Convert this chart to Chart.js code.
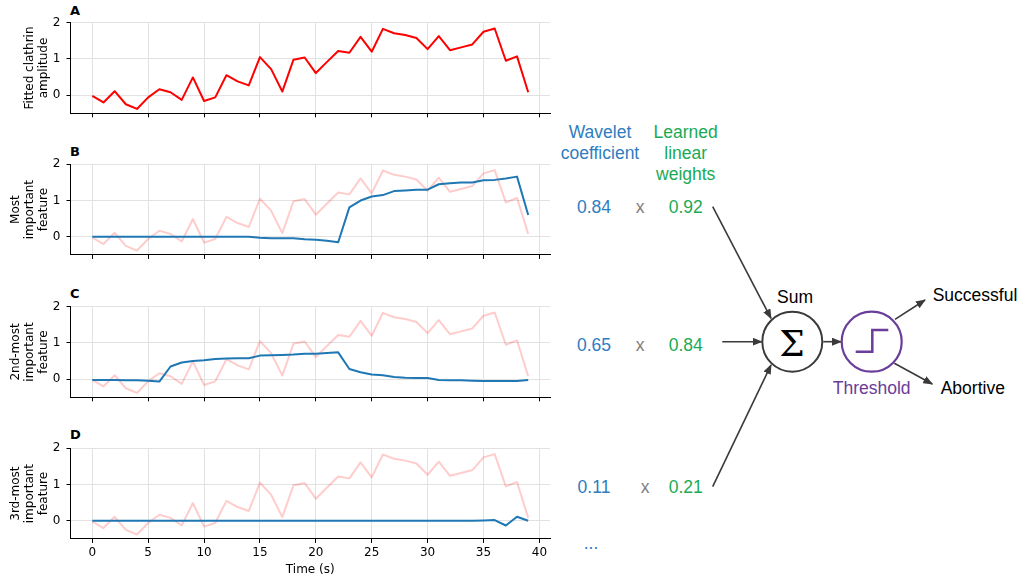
<!DOCTYPE html>
<html>
<head>
<meta charset="utf-8">
<script src="https://cdn.jsdelivr.net/npm/chart.js@4.4.0/dist/chart.umd.min.js"></script>
<style>
    body { margin: 0; background: #fff; width: 1021px; height: 580px; position: relative; overflow: hidden; }
    canvas { position: absolute; left: 0; }
    .letter { position: absolute; left: 70px; font: bold 13px "DejaVu Sans"; line-height: 14px; color: #000; }
    svg { position: absolute; left: 0; top: 0; }
    svg text { font-family: "Liberation Sans", Arial, sans-serif; font-size: 17.5px; }
</style>
</head>
<body>

<div class="letter" style="top:4px">A</div>
<div class="letter" style="top:145px">B</div>
<div class="letter" style="top:287px">C</div>
<div class="letter" style="top:428px">D</div>

<svg id="diagram" width="1021" height="580"></svg>

<script>
// Данные
const time = [0, 1, 2, 3, 4, 5, 6, 7, 8, 9, 10, 11, 12, 13, 14, 15, 16, 17, 18, 19,
              20, 21, 22, 23, 24, 25, 26, 27, 28, 29, 30, 31, 32, 33, 34, 35, 36, 37, 38, 39];
const amplitude = [-0.02, -0.2, 0.11, -0.25, -0.38, -0.06, 0.165, 0.08, -0.13, 0.49,
                   -0.16, -0.06, 0.55, 0.38, 0.27, 1.05, 0.72, 0.1, 0.98, 1.04,
                   0.61, 0.92, 1.22, 1.17, 1.61, 1.2, 1.83, 1.71, 1.66, 1.58,
                   1.27, 1.63, 1.24, 1.32, 1.4, 1.75, 1.84, 0.95, 1.07, 0.08];
const feature1 = [0, 0, 0, 0, 0, 0, 0, 0, 0, 0, 0, 0, 0, 0, 0, -0.03, -0.04, -0.04, -0.04, -0.07,
                  -0.08, -0.11, -0.15, 0.81, 1.0, 1.11, 1.15, 1.26, 1.28, 1.3,
                  1.3, 1.45, 1.48, 1.5, 1.5, 1.56, 1.57, 1.61, 1.66, 0.6];
const feature2 = [-0.02, -0.02, -0.02, -0.03, -0.03, -0.04, -0.065, 0.35, 0.46, 0.5,
                  0.52, 0.56, 0.57, 0.58, 0.58, 0.65, 0.66, 0.67, 0.68, 0.7,
                  0.7, 0.72, 0.74, 0.28, 0.19, 0.13, 0.11, 0.06, 0.04, 0.03,
                  0.03, -0.02, -0.03, -0.03, -0.04, -0.05, -0.05, -0.05, -0.05, -0.02];
const feature3 = [0, 0, 0, 0, 0, 0, 0, 0, 0, 0, 0, 0, 0, 0, 0, 0, 0, 0, 0, 0,
                  0, 0, 0, 0, 0, 0, 0, 0, 0, 0, 0, 0, 0, 0, 0, 0.01, 0.02, -0.13, 0.11, 0];
const xTicks = [0, 5, 10, 15, 20, 25, 30, 35, 40];
const yTicks = [0, 1, 2];
const coefficients = ['0.84', '0.65', '0.11'];
const weights = ['0.92', '0.84', '0.21'];

const RED = '#ff0000';
const PINK = 'rgba(255,0,0,0.2)';
const BLUE = '#1f77b4';
const PLOT_H = 90.6;
const FONT = 'DejaVu Sans';

function pts(vals) {
    return time.map((t, i) => ({ x: t, y: vals[i] }));
}

function panel(plotTop, yTitle, blue, showX) {
    const top = Math.floor(plotTop) - 20;
    const padTop = plotTop - top;
    // высота оси x побольше, чтобы нижняя подпись y не сжимала область графика
    const xh = showX ? 580 - plotTop - PLOT_H : 18;
    const h = padTop + PLOT_H + xh;
    const hInt = Math.ceil(h);

    const cv = document.createElement('canvas');
    cv.width = 560;
    cv.height = hInt;
    cv.style.top = top + 'px';
    cv.style.width = '560px';
    cv.style.height = hInt + 'px';
    document.body.appendChild(cv);

    // синяя линия поверх бледной красной
    let datasets = [];
    if (blue) {
        datasets.push({ data: pts(blue), borderColor: BLUE, borderWidth: 2 });
        datasets.push({ data: pts(amplitude), borderColor: PINK, borderWidth: 2 });
    } else {
        datasets.push({ data: pts(amplitude), borderColor: RED, borderWidth: 2 });
    }

    new Chart(cv.getContext('2d'), {
        type: 'line',
        data: { datasets: datasets },
        options: {
            responsive: false,
            animation: false,
            layout: { padding: { top: padTop, right: 10, left: 0, bottom: hInt - h } },
            plugins: { legend: { display: false }, tooltip: { enabled: false } },
            elements: { point: { radius: 0 }, line: { tension: 0, borderJoinStyle: 'round' } },
            scales: {
                x: {
                    type: 'linear',
                    min: -1.95,
                    max: 40.95,
                    afterBuildTicks: (s) => { s.ticks = xTicks.map(v => ({ value: v })); },
                    afterFit: (s) => { s.height = xh; },
                    grid: { color: '#e2e2e2', tickColor: '#000', tickLength: 4 },
                    border: { color: '#000', width: 1 },
                    ticks: {
                        color: showX ? '#000' : 'rgba(0,0,0,0)',
                        font: { family: FONT, size: 12 },
                        padding: 3,
                        maxRotation: 0
                    },
                    title: {
                        display: showX,
                        text: 'Time (s)',
                        color: '#000',
                        font: { family: FONT, size: 12 },
                        padding: { top: 0, bottom: 3 }
                    }
                },
                y: {
                    min: -0.5,
                    max: 2,
                    afterBuildTicks: (s) => { s.ticks = yTicks.map(v => ({ value: v })); },
                    afterFit: (s) => { s.width = 70.5; },
                    grid: { color: '#e2e2e2', tickColor: '#000', tickLength: 4 },
                    border: { color: '#000', width: 1 },
                    ticks: { color: '#000', font: { family: FONT, size: 12 }, padding: 6 },
                    title: {
                        display: true,
                        text: yTitle,
                        color: '#000',
                        font: { family: FONT, size: 12, lineHeight: 1.17 },
                        padding: { top: yTitle.length === 2 ? 23 : 9, bottom: 0 }
                    }
                }
            }
        }
    });
}

panel(22.7, ['Fitted clathrin', 'amplitude'], null, false);
panel(164.3, ['Most', 'important', 'feature'], feature1, false);
panel(306.7, ['2nd-most', 'important', 'feature'], feature2, false);
panel(448.3, ['3rd-most', 'important', 'feature'], feature3, true);

// Схема справа
const svg = document.getElementById('diagram');
const NS = 'http://www.w3.org/2000/svg';
function el(tag, attrs, text) {
    const e = document.createElementNS(NS, tag);
    for (const k in attrs) e.setAttribute(k, attrs[k]);
    if (text !== undefined) e.textContent = text;
    svg.appendChild(e);
    return e;
}

const TBLUE = '#2f7dbf';
const TGREEN = '#1aaa55';
const PURPLE = '#6a3d9a';
const DARK = '#3a3a3a';

const defs = el('defs', {});
const marker = document.createElementNS(NS, 'marker');
marker.setAttribute('id', 'arr');
marker.setAttribute('viewBox', '0 0 10 8');
marker.setAttribute('refX', '9');
marker.setAttribute('refY', '4');
marker.setAttribute('markerWidth', '10');
marker.setAttribute('markerHeight', '8');
marker.setAttribute('markerUnits', 'userSpaceOnUse');
marker.setAttribute('orient', 'auto');
const mp = document.createElementNS(NS, 'path');
mp.setAttribute('d', 'M0,0 L10,4 L0,8 z');
mp.setAttribute('fill', DARK);
marker.appendChild(mp);
defs.appendChild(marker);

// заголовки столбцов
el('text', { x: 600, y: 131.7, fill: TBLUE, 'text-anchor': 'middle', 'dominant-baseline': 'central' }, 'Wavelet');
el('text', { x: 600, y: 152.7, fill: TBLUE, 'text-anchor': 'middle', 'dominant-baseline': 'central' }, 'coefficient');
el('text', { x: 685.7, y: 131.7, fill: TGREEN, 'text-anchor': 'middle', 'dominant-baseline': 'central' }, 'Learned');
el('text', { x: 685.7, y: 152.7, fill: TGREEN, 'text-anchor': 'middle', 'dominant-baseline': 'central' }, 'linear');
el('text', { x: 685.7, y: 173.7, fill: TGREEN, 'text-anchor': 'middle', 'dominant-baseline': 'central' }, 'weights');

const rowY = [206.7, 345, 486.7];
const crossX = [640, 640, 645];
rowY.forEach((y, i) => {
    el('text', { x: 594, y: y, fill: TBLUE, 'text-anchor': 'middle', 'dominant-baseline': 'central' }, coefficients[i]);
    el('text', { x: crossX[i], y: y, fill: '#808080', 'text-anchor': 'middle', 'dominant-baseline': 'central' }, 'x');
    el('text', { x: 685.7, y: y, fill: TGREEN, 'text-anchor': 'middle', 'dominant-baseline': 'central' }, weights[i]);
});
el('text', { x: 591, y: 549, fill: TBLUE, 'text-anchor': 'middle' }, '...');

// стрелки
const arrows = [
    [712.7, 206.7, 771, 318.3],
    [722.3, 341.7, 761.7, 341.7],
    [712.7, 486.7, 771, 365],
    [823.3, 341.7, 841, 341.7],
    [895, 319.3, 925, 300],
    [894.3, 363.3, 932.3, 384]
];
arrows.forEach(a => {
    el('line', { x1: a[0], y1: a[1], x2: a[2], y2: a[3], stroke: DARK, 'stroke-width': 1.6, 'marker-end': 'url(#arr)' });
});

// сумматор
el('circle', { cx: 792.3, cy: 341.7, r: 30, fill: 'none', stroke: DARK, 'stroke-width': 2 });
el('text', { x: 792, y: 343, 'text-anchor': 'middle', 'dominant-baseline': 'central', style: 'font-family:"DejaVu Serif";font-size:36px', fill: '#000' }, 'Σ');
el('text', { x: 795, y: 297.3, fill: '#000', 'text-anchor': 'middle', 'dominant-baseline': 'central' }, 'Sum');

// порог
el('circle', { cx: 871.7, cy: 341.7, r: 30, fill: 'none', stroke: PURPLE, 'stroke-width': 2.2 });
el('polyline', { points: '855.7,351.7 872.3,351.7 872.3,330 888.3,330', fill: 'none', stroke: PURPLE, 'stroke-width': 2.5 });
el('text', { x: 871.7, y: 388.3, fill: PURPLE, 'text-anchor': 'middle', 'dominant-baseline': 'central' }, 'Threshold');

el('text', { x: 932.7, y: 295, fill: '#000', 'dominant-baseline': 'central' }, 'Successful');
el('text', { x: 940.7, y: 388.3, fill: '#000', 'dominant-baseline': 'central' }, 'Abortive');
</script>
</body>
</html>
